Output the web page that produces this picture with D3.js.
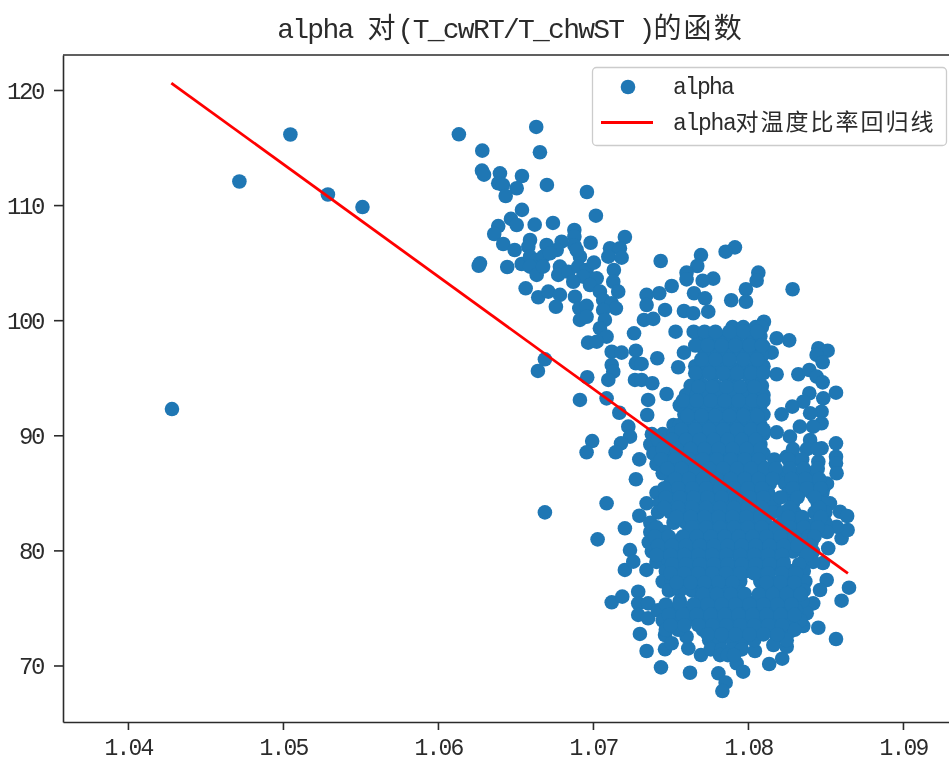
<!DOCTYPE html>
<html><head><meta charset="utf-8">
<script src="https://cdn.jsdelivr.net/npm/d3@7/dist/d3.min.js"></script>
<style>html,body{margin:0;padding:0;background:#fff;overflow:hidden}svg{display:block;filter:blur(.45px)}</style>
</head><body><svg id="c" width="949" height="760"></svg>
<script>
const titleText = "alpha 对(T_cwRT/T_chwST )的函数";
const scatterName = "alpha";
const lineName = "alpha对温度比率回归线";
const xTicks = [1.04,1.05,1.06,1.07,1.08,1.09];
const yTicks = [70,80,90,100,110,120];
const xDomain = [1.03581,1.09368];
const yDomain = [65.09,123.04];
const lineRatio = [1.0428,1.08645];
const lineAlpha = [120.6,78.0];

// Points that can be told apart in the picture.
const readRatio = [
1.04284,1.04719,1.05048,1.05290,1.05513,1.06645,1.06690,1.06690,
1.06135,1.06634,1.06286,1.06658,1.06284,1.06297,1.06400,1.06542,
1.06389,1.06419,1.06508,1.06437,1.06703,1.06961,1.07019,1.06542,
1.06471,1.06508,1.06624,1.06742,1.06389,1.06363,1.06880,1.06880,
1.07206,1.06985,1.06594,1.06421,1.06495,1.06701,1.06798,1.06766,
1.06583,1.06880,1.07110,1.07174,1.07099,1.07185,1.06271,1.06263,
1.06447,1.06540,1.06594,1.06637,1.06679,1.06723,1.06594,1.06637,
1.06678,1.06787,1.06776,1.06841,1.06916,1.06895,1.06905,1.06959,
1.07006,1.06937,1.06873,1.07024,1.06981,1.07135,1.07131,1.07163,
1.07045,1.06884,1.07066,1.07121,1.07148,1.06566,1.06647,1.06712,
1.06787,1.06761,1.06912,1.06959,1.06916,1.06959,1.07066,1.07077,
1.07045,1.07088,1.06969,1.07024,1.07265,1.07346,1.07346,1.07428,
1.07508,1.07437,1.07329,1.07389,1.07465,1.07533,1.07697,1.07916,
1.07856,1.07673,1.07604,1.07604,1.08067,1.08056,1.07776,1.07708,
1.07652,1.07723,1.07987,1.07987,1.07892,1.08288,1.07587,1.07647,
1.07744,1.08185,1.08266,1.08103,1.08454,1.08514,1.08443,1.08482,
1.08153,1.07415,1.07277,1.07121,1.07185,1.07587,1.07550,1.07277,
1.07314,1.07121,1.07131,1.07099,1.07271,1.07314,1.07383,1.06963,
1.06916,1.07088,1.07170,1.06995,1.06959,1.07228,1.07239,1.07181,
1.07146,1.07299,1.07475,1.07356,1.07350,1.08185,1.08325,1.08396,
1.08443,1.08482,1.08568,1.08486,1.08396,1.08357,1.08286,1.08217,
1.08185,1.08271,1.08475,1.08475,1.08401,1.08335,1.08421,1.08401,
1.08475,1.08568,1.08568,1.08568,1.08250,1.08335,1.08454,1.08572,
1.07277,1.07088,1.07206,1.07030,1.07239,1.07299,1.07346,1.07206,
1.07260,1.07345,1.07121,1.07189,1.07292,1.07292,1.07356,1.07292,
1.07356,1.07303,1.07346,1.07439,1.07626,1.07465,1.07465,1.07508,
1.07615,1.07604,1.07697,1.07809,1.07856,1.07835,1.07927,1.07969,
1.08045,1.08137,1.08221,1.08088,1.08185,1.08164,1.08250,1.08271,
1.08357,1.08454,1.08568,1.08604,1.08652,1.08518,1.08604,1.08643,
1.08594,1.08640,1.08529,1.08486,1.08572,1.08508,1.08465,1.08421,
1.08379,1.08484,1.08486];
const readAlpha = [
92.28,112.05,116.13,110.92,109.83,95.59,96.60,83.30,
116.15,116.79,114.73,114.59,112.99,112.64,112.76,112.53,
111.90,111.75,111.46,110.79,111.75,111.14,109.08,109.58,
108.80,108.27,108.30,108.45,108.18,107.49,107.84,107.25,
107.23,106.73,106.97,106.62,106.10,106.53,106.82,106.10,
106.39,106.50,106.25,106.25,105.52,105.43,104.94,104.73,
104.62,104.88,105.52,105.23,105.52,105.81,104.65,103.93,
104.65,104.65,103.93,104.21,105.52,106.10,104.65,104.36,
105.00,103.78,103.34,103.64,103.06,104.36,103.34,102.48,
102.48,102.04,101.76,101.47,101.03,102.77,101.99,102.48,
102.20,101.17,101.03,101.25,100.02,100.30,100.89,100.02,
99.30,98.57,98.05,98.13,98.86,102.20,101.32,102.34,
102.97,105.14,100.02,100.11,100.89,99.00,105.66,106.33,
105.95,104.71,104.13,103.55,104.13,103.43,103.61,103.43,
102.34,101.90,102.69,101.60,101.73,102.69,100.80,100.60,
100.74,98.43,98.25,99.87,97.56,97.35,96.98,96.34,
97.18,96.69,97.35,97.26,97.18,97.18,95.91,96.26,
96.20,96.11,95.53,94.81,94.81,94.81,94.52,95.04,
93.07,93.21,91.96,89.50,88.52,90.75,89.88,89.30,
88.52,87.91,93.59,93.07,91.76,95.30,95.30,95.67,
95.10,94.60,93.70,93.21,93.65,92.92,92.49,91.82,
90.26,89.88,92.05,91.04,91.92,90.75,90.75,89.59,
88.87,89.30,88.14,87.57,88.14,87.85,87.71,86.70,
86.18,84.09,81.92,80.96,80.03,83.01,84.09,78.30,
79.02,78.30,75.49,75.98,76.41,75.40,75.40,74.39,
74.10,72.74,71.26,69.84,69.37,72.65,71.41,71.93,
71.49,72.50,70.91,69.32,68.51,67.78,70.19,69.46,
71.26,70.13,70.59,72.85,72.50,71.78,71.63,72.94,
73.43,73.28,72.30,75.63,76.76,80.18,81.05,81.77,
83.36,82.99,84.09,85.39,82.06,77.43,76.56,75.40,
74.54,78.90,82.35];

// The dense core overlaps too much to separate points: these are rough estimates
// that reproduce its silhouette and gaps, one alpha level per list of ratios.
const coreAlpha = [99.4,98.6,97.7,96.9,96.0,95.2,94.3,93.5,92.6,91.8,90.9,90.1,89.2,88.4,87.5,86.7,85.8,85.0,84.1,83.3,82.4,81.6,80.7,79.9,79.0,78.2,77.3,76.5,75.6,74.8,73.9,73.1,72.2,71.4,70.9];
const coreRatio = [
[1.0790,1.0797,1.0805,1.0809],
[1.0768,1.0775,1.0781,1.0786,1.0793,1.0801,1.0808],
[1.0770,1.0776,1.0784,1.0791,1.0798,1.0806,1.0810],
[1.0772,1.0780,1.0787,1.0795,1.0802,1.0809],
[1.0766,1.0774,1.0782,1.0789,1.0797,1.0805,1.0810],
[1.0768,1.0777,1.0785,1.0792,1.0800,1.0807],
[1.0763,1.0771,1.0779,1.0787,1.0794,1.0802,1.0809],
[1.0760,1.0767,1.0775,1.0782,1.0790,1.0797,1.0805,1.0810],
[1.0756,1.0764,1.0771,1.0779,1.0786,1.0794,1.0801,1.0808],
[1.0759,1.0767,1.0775,1.0782,1.0790,1.0797,1.0805,1.0810],
[1.0752,1.0756,1.0763,1.0771,1.0778,1.0786,1.0793,1.0801,1.0808],
[1.0738,1.0745,1.0752,1.0759,1.0767,1.0774,1.0782,1.0789,1.0797,1.0804,1.0810],
[1.0737,1.0744,1.0748,1.0755,1.0763,1.0770,1.0778,1.0785,1.0793,1.0800,1.0808],
[1.0739,1.0746,1.0752,1.0759,1.0767,1.0774,1.0782,1.0789,1.0797,1.0804,1.0810],
[1.0741,1.0748,1.0755,1.0763,1.0770,1.0778,1.0785,1.0793,1.0800,1.0808],
[1.0745,1.0752,1.0759,1.0767,1.0774,1.0782,1.0789,1.0797,1.0804,1.0811,1.0819,1.0826,1.0833,1.0841],
[1.0750,1.0757,1.0764,1.0771,1.0779,1.0786,1.0793,1.0801,1.0808,1.0814,1.0824,1.0831,1.0839,1.0846,1.0851],
[1.0741,1.0748,1.0755,1.0763,1.0770,1.0778,1.0785,1.0793,1.0800,1.0808,1.0813,1.0826,1.0833,1.0841,1.0848],
[1.0743,1.0750,1.0758,1.0766,1.0773,1.0781,1.0788,1.0796,1.0803,1.0810,1.0817,1.0829,1.0845,1.0849],
[1.0742,1.0750,1.0757,1.0765,1.0772,1.0780,1.0787,1.0795,1.0802,1.0809,1.0816,1.0823,1.0830,1.0843,1.0850],
[1.0737,1.0752,1.0760,1.0767,1.0775,1.0782,1.0790,1.0797,1.0805,1.0811,1.0822,1.0829,1.0836,1.0844,1.0850],
[1.0737,1.0746,1.0762,1.0769,1.0777,1.0784,1.0792,1.0799,1.0807,1.0814,1.0822,1.0829,1.0837,1.0844,1.0851],
[1.0736,1.0743,1.0751,1.0759,1.0766,1.0774,1.0781,1.0789,1.0796,1.0804,1.0811,1.0819,1.0826,1.0834,1.0841],
[1.0738,1.0746,1.0754,1.0762,1.0769,1.0777,1.0784,1.0792,1.0799,1.0807,1.0814,1.0822,1.0829,1.0836,1.0842],
[1.0741,1.0749,1.0756,1.0764,1.0771,1.0779,1.0786,1.0794,1.0801,1.0809,1.0816,1.0823,1.0836,1.0842],
[1.0747,1.0754,1.0762,1.0769,1.0777,1.0784,1.0792,1.0799,1.0807,1.0814,1.0822,1.0829,1.0836],
[1.0745,1.0751,1.0758,1.0766,1.0773,1.0781,1.0788,1.0795,1.0808,1.0815,1.0823,1.0830,1.0837],
[1.0749,1.0756,1.0764,1.0771,1.0779,1.0786,1.0793,1.0811,1.0814,1.0821,1.0829,1.0836],
[1.0756,1.0769,1.0776,1.0784,1.0791,1.0799,1.0806,1.0814,1.0821,1.0828,1.0835],
[1.0742,1.0750,1.0757,1.0765,1.0772,1.0780,1.0787,1.0795,1.0802,1.0810,1.0817,1.0824,1.0831],
[1.0745,1.0752,1.0760,1.0768,1.0775,1.0783,1.0790,1.0798,1.0805,1.0813,1.0820,1.0827,1.0834],
[1.0747,1.0755,1.0771,1.0778,1.0786,1.0793,1.0801,1.0808,1.0816,1.0823,1.0830],
[1.0775,1.0782,1.0790,1.0797,1.0804,1.0825],
[1.0776,1.0783,1.0790,1.0796],
[1.0782,1.0787,1.0791]];
const fillAlpha = [99.0,97.8,96.6,95.4,94.2,93.0,91.7,90.5,89.6,88.8,87.9,87.1,86.2,85.4,84.6,83.7,82.9,82.0,81.2,80.4,79.6,78.8,78.0,77.2,76.2,75.3,74.4,73.5,72.7];
const fillRatio = [
[1.0765,1.0772,1.0779,1.0788,1.0797,1.0806],
[1.0766,1.0774,1.0783,1.0792,1.0801,1.0809],
[1.0770,1.0779,1.0788,1.0797,1.0806],
[1.0766,1.0775,1.0784,1.0793,1.0802,1.0810],
[1.0768,1.0777,1.0786,1.0795,1.0804],
[1.0758,1.0767,1.0776,1.0785,1.0794,1.0803,1.0810],
[1.0761,1.0770,1.0779,1.0788,1.0797,1.0806],
[1.0757,1.0766,1.0775,1.0784,1.0793,1.0802,1.0810],
[1.0742,1.0751,1.0760,1.0769,1.0778,1.0787,1.0796,1.0805],
[1.0745,1.0754,1.0763,1.0772,1.0781,1.0790,1.0799,1.0808,1.0829,1.0838,1.0845],
[1.0744,1.0753,1.0762,1.0771,1.0780,1.0789,1.0798,1.0807,1.0817,1.0826,1.0835],
[1.0748,1.0757,1.0766,1.0775,1.0784,1.0793,1.0802,1.0811,1.0818,1.0827,1.0836,1.0845],
[1.0753,1.0762,1.0771,1.0780,1.0789,1.0798,1.0807,1.0816,1.0828,1.0837,1.0846],
[1.0746,1.0755,1.0764,1.0773,1.0782,1.0791,1.0800,1.0809,1.0829,1.0838,1.0847],
[1.0747,1.0756,1.0765,1.0774,1.0783,1.0792,1.0801,1.0810,1.0821,1.0832,1.0843],
[1.0746,1.0755,1.0764,1.0773,1.0782,1.0791,1.0800,1.0809,1.0827,1.0846],
[1.0754,1.0763,1.0772,1.0781,1.0790,1.0799,1.0808,1.0826,1.0835,1.0847],
[1.0741,1.0764,1.0773,1.0782,1.0791,1.0800,1.0809,1.0818,1.0827,1.0836,1.0845],
[1.0740,1.0749,1.0758,1.0767,1.0776,1.0785,1.0794,1.0803,1.0812,1.0821,1.0830,1.0839,1.0843],
[1.0742,1.0751,1.0760,1.0769,1.0778,1.0787,1.0796,1.0805,1.0814,1.0823,1.0832,1.0840],
[1.0741,1.0750,1.0759,1.0768,1.0777,1.0786,1.0795,1.0804,1.0813,1.0822,1.0838],
[1.0751,1.0760,1.0769,1.0778,1.0787,1.0796,1.0805,1.0814,1.0823,1.0833],
[1.0750,1.0759,1.0768,1.0777,1.0786,1.0795,1.0804,1.0813,1.0822,1.0831],
[1.0754,1.0763,1.0772,1.0781,1.0790,1.0812,1.0821,1.0830],
[1.0771,1.0780,1.0789,1.0798,1.0807,1.0816,1.0825,1.0834],
[1.0747,1.0756,1.0765,1.0774,1.0783,1.0792,1.0801,1.0810,1.0819,1.0828],
[1.0749,1.0758,1.0767,1.0776,1.0785,1.0794,1.0803,1.0812,1.0821,1.0830],
[1.0750,1.0759,1.0768,1.0777,1.0786,1.0795,1.0804,1.0813,1.0822],
[1.0774,1.0783,1.0792,1.0801,1.0810,1.0819]];

const FONT = '"Liberation Mono","Noto Sans CJK SC",monospace';
const INK = "#2b2b2b";
const R = 7.3;
const svg = d3.select("#c");
const x = d3.scaleLinear().domain(xDomain).range([63,960]);
const y = d3.scaleLinear().domain(yDomain).range([722,55]);

// SimHei-style metrics: Latin cells are half a CJK cell wide.
function cells(sel, txt, size, cell, x0, anchor){
  const adv = Array.from(txt).map(c => c.charCodeAt(0) < 256 ? cell/2 : cell);
  const w = d3.sum(adv);
  const start = x0 - (anchor==="middle" ? w/2 : anchor==="end" ? w : 0);
  const xs = d3.cumsum([0].concat(adv.slice(0,-1))).map(d => (start+d).toFixed(1));
  sel.text(txt).attr("text-anchor","start").attr("x",xs.join(" "))
     .attr("font-size",size).attr("font-family",FONT).attr("fill",INK);
}

const pts = d3.zip(readRatio,readAlpha)
  .concat(coreAlpha.flatMap((a,i)=>coreRatio[i].map(r=>[r,a])))
  .concat(fillAlpha.flatMap((a,i)=>fillRatio[i].map(r=>[r,a])));
svg.append("g").selectAll("circle").data(pts).join("circle")
  .attr("cx",d=>x(d[0])).attr("cy",d=>y(d[1])).attr("r",R).attr("fill","#1f77b4");

svg.append("path").datum(d3.zip(lineRatio,lineAlpha))
  .attr("d",d3.line().x(d=>x(d[0])).y(d=>y(d[1])))
  .attr("fill","none").attr("stroke","#ff0000").attr("stroke-width",2.8);

const gx = svg.append("g").attr("transform","translate(0,722)")
  .call(d3.axisBottom(x).tickValues(xTicks).tickSize(8).tickSizeOuter(0).tickFormat(d3.format(".2f")));
const gy = svg.append("g").attr("transform","translate(63,0)")
  .call(d3.axisLeft(y).tickValues(yTicks).tickSize(9).tickSizeOuter(0));
[gx,gy].forEach(g=>{
  g.selectAll(".domain,.tick line").attr("stroke",INK).attr("stroke-width",1.6);
});
gx.selectAll(".tick text").each(function(d){
  cells(d3.select(this),d3.format(".2f")(d),23,24,0,"middle");
  d3.select(this).attr("y",17).attr("dy","0.70em");
});
gy.selectAll(".tick text").each(function(d){
  cells(d3.select(this),String(d),24,24,-20,"end");
  d3.select(this).attr("dy","0.34em");
});
svg.append("line").attr("x1",63).attr("x2",960).attr("y1",55).attr("y2",55)
  .attr("stroke",INK).attr("stroke-width",1.6);

svg.append("text").attr("y",38).call(cells,titleText,28,30.1,510.5,"middle");

const lg = svg.append("g");
lg.append("rect").attr("x",592.5).attr("y",67.5).attr("width",354).attr("height",78).attr("rx",4)
  .attr("fill","#fff").attr("fill-opacity",.8).attr("stroke","#cccccc").attr("stroke-width",1.3);
lg.append("circle").attr("cx",628).attr("cy",87).attr("r",R).attr("fill","#1f77b4");
lg.append("line").attr("x1",601).attr("x2",653).attr("y1",122.5).attr("y2",122.5)
  .attr("stroke","#ff0000").attr("stroke-width",2.8);
lg.append("text").attr("y",94).call(cells,scatterName,23,24,673,"start");
lg.append("text").attr("y",130).call(cells,lineName,23,25,673,"start");
</script></body></html>
